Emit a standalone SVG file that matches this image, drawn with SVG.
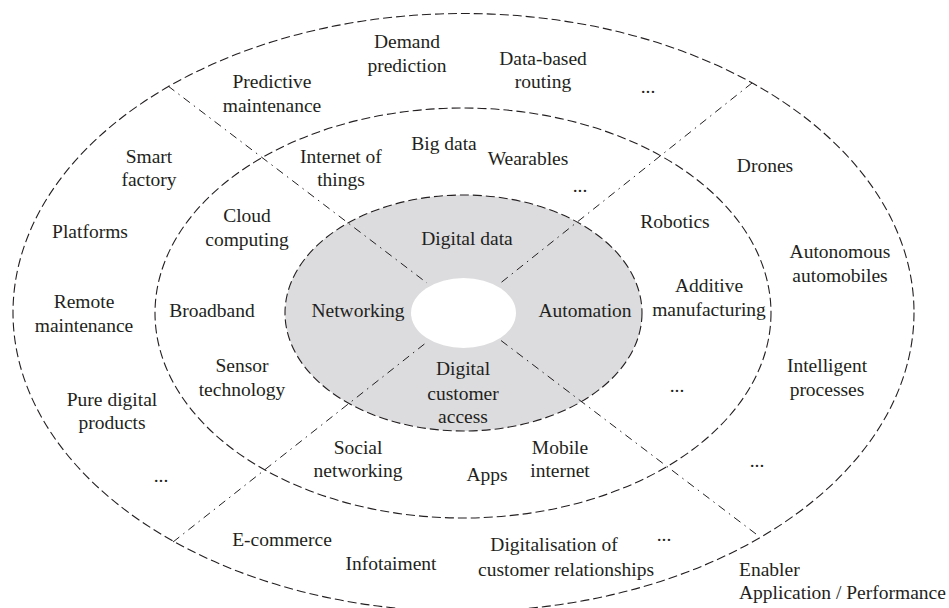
<svg xmlns="http://www.w3.org/2000/svg" width="949" height="608" viewBox="0 0 949 608">
<style>
.ring{fill:none;stroke:#231f20;stroke-width:1.1;stroke-dasharray:9 4}
.core{fill:#dcdcde;stroke:#231f20;stroke-width:1.1;stroke-dasharray:9 4}
.sep{fill:none;stroke:#231f20;stroke-width:1;stroke-dasharray:8 5 1.5 5}
text{font-family:"Liberation Serif","Times New Roman",serif;font-size:19.5px;fill:#231f20;text-anchor:middle}
.l{text-anchor:start}
</style>
<rect width="949" height="608" fill="#fff"/>
<g id="rings">
<ellipse id="outer" class="ring" cx="463.5" cy="312.5" rx="450.5" ry="299"/>
<ellipse id="middle" class="ring" cx="463" cy="313" rx="308" ry="205"/>
<ellipse id="core" class="core" cx="463.5" cy="313" rx="178.5" ry="118"/>
<ellipse id="hole" cx="463.5" cy="313" rx="52.5" ry="35" fill="#fff"/>
</g>
<g id="connectors">
<line class="sep" x1="168" y1="86" x2="427" y2="283"/>
<line class="sep" x1="752" y1="83" x2="498" y2="285"/>
<line class="sep" x1="173" y1="542" x2="427" y2="342"/>
<line class="sep" x1="756" y1="534" x2="499" y2="339"/>
</g>
<g id="core-labels">
<g id="digital-data"><text x="467" y="245">Digital data</text></g>
<g id="networking"><text x="358" y="317">Networking</text></g>
<g id="automation"><text x="585" y="317">Automation</text></g>
<g id="customer-access"><text x="463" y="375">Digital</text><text x="463" y="400">customer</text><text x="463" y="423">access</text></g>
</g>
<g id="enabler-labels">
<g id="iot"><text x="341" y="163">Internet of</text><text x="341" y="186">things</text></g>
<g id="big-data"><text x="444" y="150">Big data</text></g>
<g id="wearables"><text x="528" y="165">Wearables</text></g>
<g id="dots-1"><text x="580" y="192">...</text></g>
<g id="cloud"><text x="247" y="222">Cloud</text><text x="247" y="246">computing</text></g>
<g id="broadband"><text x="212" y="317">Broadband</text></g>
<g id="sensor"><text x="242" y="372">Sensor</text><text x="242" y="396">technology</text></g>
<g id="social"><text x="358" y="454">Social</text><text x="358" y="477">networking</text></g>
<g id="apps"><text x="487" y="481">Apps</text></g>
<g id="mobile"><text x="560" y="454">Mobile</text><text x="560" y="477">internet</text></g>
<g id="robotics"><text x="675" y="228">Robotics</text></g>
<g id="additive"><text x="709" y="292">Additive</text><text x="709" y="316">manufacturing</text></g>
<g id="dots-2"><text x="677" y="392">...</text></g>
</g>
<g id="application-labels">
<g id="demand"><text x="407" y="48">Demand</text><text x="407" y="72">prediction</text></g>
<g id="predictive"><text x="272" y="88">Predictive</text><text x="272" y="112">maintenance</text></g>
<g id="routing"><text x="543" y="65">Data-based</text><text x="543" y="88">routing</text></g>
<g id="dots-3"><text x="648" y="93">...</text></g>
<g id="smart-factory"><text x="149" y="163">Smart</text><text x="149" y="186">factory</text></g>
<g id="platforms"><text x="90" y="238">Platforms</text></g>
<g id="remote"><text x="84" y="308">Remote</text><text x="84" y="332">maintenance</text></g>
<g id="pure-digital"><text x="112" y="406">Pure digital</text><text x="112" y="429">products</text></g>
<g id="dots-4"><text x="161" y="482">...</text></g>
<g id="ecommerce"><text x="282" y="546">E-commerce</text></g>
<g id="infotainment"><text x="391" y="570">Infotaiment</text></g>
<g id="digitalisation"><text x="554" y="551">Digitalisation of</text><text x="566" y="576">customer relationships</text></g>
<g id="dots-5"><text x="664" y="541">...</text></g>
<g id="drones"><text x="765" y="172">Drones</text></g>
<g id="autonomous"><text x="840" y="258">Autonomous</text><text x="840" y="282">automobiles</text></g>
<g id="intelligent"><text x="827" y="372">Intelligent</text><text x="827" y="396">processes</text></g>
<g id="dots-6"><text x="757" y="467">...</text></g>
</g>
<g id="legend"><text class="l" x="739" y="576">Enabler</text><text class="l" x="739" y="599">Application / Performance</text></g>
</svg>
